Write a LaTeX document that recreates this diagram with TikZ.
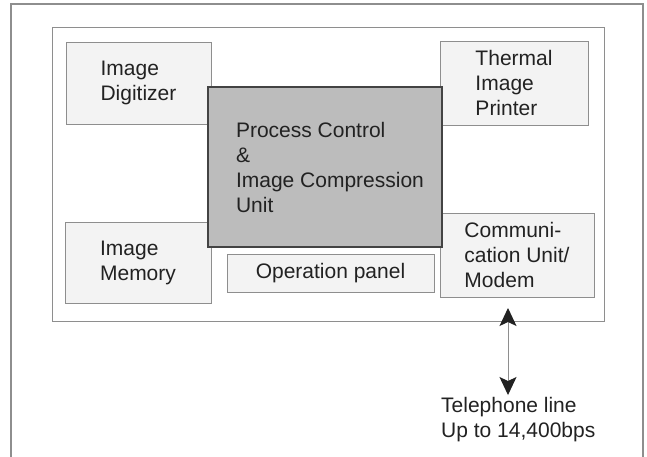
\documentclass[tikz,border=0pt]{standalone}
\usepackage{fontspec}
\setmainfont{Liberation Sans}
\usepackage{xcolor}
\usetikzlibrary{arrows.meta}
\definecolor{framegray}{HTML}{8E8E8E}
\definecolor{boxfill}{HTML}{F3F3F3}
\definecolor{cpufill}{HTML}{BCBCBC}
\definecolor{inkgray}{HTML}{222222}

\begin{document}
\begin{tikzpicture}[x=1pt,y=-1pt,
  every node/.style={font=\fontsize{21}{25}\selectfont, text=inkgray},
  unit/.style={draw=framegray, fill=boxfill, line width=1pt, align=left, inner sep=0pt},
  cpu/.style={draw=inkgray!85, fill=cpufill, line width=1.8pt, align=left, inner sep=0pt},
  >={Stealth[length=18pt,width=17pt,inset=4pt,color=inkgray]}]
\def\mainrect{(11,4) rectangle (643,480)}
\def\innerrect{(52,27) rectangle (604,321)}
\clip (0,0) rectangle (647,456);
      \fill[white] (0,0) rectangle (647,456);
      \draw[framegray, line width=1.5pt] \mainrect;
      \draw[framegray, line width=1pt] \innerrect;
      \node[unit, minimum width=145pt, minimum height=82pt] (digitizer) at (138.5,83) {Image\\Digitizer};
      \node[unit, minimum width=148pt, minimum height=84pt] (printer) at (514,83) {Thermal\\Image\\Printer};
      \node[unit, minimum width=146pt, minimum height=81pt] (memory) at (138,262.5) {Image\\Memory};
      \node[unit, minimum width=207pt, minimum height=38pt] (panel) at (330.5,273) {Operation panel};
      \node[unit, minimum width=154pt, minimum height=84pt] (modem) at (517,255) {Communi-\\cation Unit/\\Modem};
      \node[cpu, minimum width=234pt, minimum height=160pt] (cpu) at (325,167) {\hspace*{10pt}Process Control\\\hspace*{10pt}\&\\\hspace*{10pt}Image Compression\\\hspace*{10pt}Unit};
      \coordinate (jack) at (508,308);
      \node[anchor=west, align=left, inner sep=2pt] (line) at (439,419.5) {Telephone line\\Up to 14,400bps};
      \draw[framegray, line width=1pt, <->] (jack) -- (jack |- line.north);
\end{tikzpicture}
\end{document}
